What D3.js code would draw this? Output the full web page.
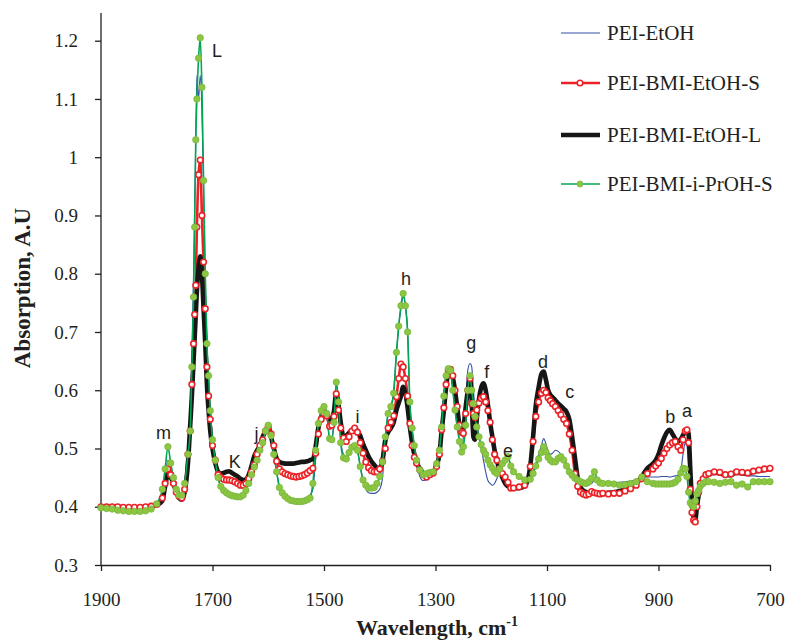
<!DOCTYPE html>
<html>
<head>
<meta charset="utf-8">
<script src="https://cdn.jsdelivr.net/npm/d3@7"></script>
<style>
	body { margin: 0; background: #fff; }
	svg text { fill: #231f20; }
	.serif { font-family: "Liberation Serif", "Times New Roman", serif; }
	.peak { font-family: "Liberation Sans", Arial, sans-serif; font-size: 18px; }
</style>
</head>
<body>
<div id="chart"></div>
<script>
// Wavenumbers (cm-1) shared by the four spectra
const wavenumbers = [
	1900, 1890, 1880, 1870, 1860, 1850, 1840, 1830, 1820, 1810, 1800, 1790, 1785, 1780, 1775, 1770, 1765, 1760, 1755, 1750,
	1744, 1740, 1737, 1734, 1732, 1730, 1728, 1725, 1722, 1719, 1716, 1713, 1710, 1707, 1704, 1700, 1695,
	1690, 1685, 1680, 1675, 1670, 1665, 1660, 1655, 1650, 1645, 1640, 1635, 1630, 1625, 1620, 1615, 1610, 1605, 1600, 1595, 1590, 1585, 1580, 1575, 1570, 1565, 1560, 1555, 1550, 1545, 1540, 1535, 1530, 1525,
	1520, 1515, 1510, 1505, 1500, 1495, 1490, 1486, 1482, 1478, 1474, 1470, 1465, 1460, 1455, 1450, 1445, 1440, 1435, 1430, 1425, 1420, 1415, 1410, 1405, 1400, 1395, 1390,
	1385, 1380, 1375, 1370, 1366, 1362, 1358, 1354, 1350, 1346, 1342, 1338, 1334, 1328, 1322, 1316, 1310, 1304, 1298, 1293, 1289, 1285, 1281, 1277, 1273, 1269, 1265, 1261, 1257, 1253, 1250, 1246, 1242, 1238, 1235, 1232, 1229, 1226, 1222, 1218, 1214, 1210, 1206, 1202, 1198, 1194, 1190, 1185, 1180, 1175, 1170,
	1165, 1160, 1150, 1140, 1130, 1125, 1120, 1115, 1110, 1106, 1102, 1098, 1094, 1090, 1085, 1080, 1075, 1070, 1065, 1060, 1055, 1050, 1045, 1040, 1035, 1030, 1025, 1020, 1015, 1010, 1005,
	1000, 990, 980, 970, 960, 950, 940, 930, 920, 910, 905, 900, 895, 890, 885, 880, 875, 870, 865, 860, 856, 852, 849, 846, 843, 840, 837, 834, 831, 828, 825, 820, 815, 810, 800, 790, 780, 770, 760, 750, 740, 730, 720, 710, 700
];

const peiEtOH = [
	.40, .40, .40, .399, .398, .398, .397, .397, .398, .399, .402, .42, .45, .48, .47, .45, .43, .42, .42, .43,
	.49, .54, .66, .80, .92, 1.03, 1.14, 1.10, 1.14, 1.08, .94, .79, .68, .62, .56, .515, .48,
	.45, .433, .425, .42, .418, .416, .415, .415, .416, .42, .428, .44, .455, .47, .482, .497, .51, .527, .535, .52, .49, .46, .435, .427, .42, .416, .413, .411, .41, .41, .41, .411, .413, .42,
	.43, .48, .535, .56, .568, .556, .52, .52, .55, .61, .58, .515, .49, .485, .493, .50, .503, .495, .47, .445, .43, .424, .423, .423, .425, .43, .45, .52,
	.56, .57, .60, .665, .71, .74, .76, .745, .70, .58, .53, .50, .475, .452, .445, .447, .45, .455, .47, .50, .535, .585, .625, .637, .634, .60, .566, .537, .515, .50, .52, .58, .635, .646, .64, .60, .57, .545, .52, .50, .48, .46, .445, .44, .437, .44, .448, .46, .462, .45, .44,
	.437, .435, .437, .442, .45, .46, .475, .49, .505, .517, .508, .495, .49, .492, .497, .495, .49, .483, .475, .465, .455, .447, .443, .44, .437, .436, .437, .44, .445, .442, .44,
	.44, .44, .441, .442, .443, .444, .446, .45, .451, .451, .451, .451, .452, .452, .452, .451, .452, .453, .454, .462, .49, .51, .505, .47, .42, .39, .38, .385, .405, .422, .432, .445, .45, .452, .455, .455, .455, .455, .455, .454, .453, .453, .452, .452, .452
];

const peiBmiEtOHS = [
	.40, .40, .40, .40, .399, .399, .399, .399, .40, .401, .404, .415, .44, .465, .455, .44, .425, .418, .415, .43,
	.49, .53, .61, .68, .73, .78, .88, .97, .995, .90, .82, .74, .64, .59, .55, .505, .48,
	.455, .45, .447, .446, .446, .445, .443, .44, .437, .437, .44, .448, .46, .472, .49, .505, .515, .53, .537, .525, .505, .478, .465, .46, .457, .455, .453, .452, .451, .452, .453, .455, .458, .462,
	.466, .492, .525, .55, .56, .556, .538, .54, .555, .594, .566, .535, .518, .512, .52, .53, .535, .528, .51, .492, .477, .467, .462, .46, .46, .465, .478, .50,
	.535, .545, .556, .589, .62, .645, .64, .62, .59, .543, .505, .485, .475, .463, .455, .451, .455, .458, .469, .49, .532, .57, .61, .634, .636, .625, .60, .572, .54, .528, .526, .56, .60, .62, .577, .56, .553, .566, .578, .586, .589, .58, .565, .545, .515, .49, .48, .465, .457, .451, .442,
	.432, .432, .434, .437, .469, .512, .555, .58, .595, .60, .596, .587, .582, .577, .572, .565, .558, .55, .543, .525, .497, .457, .435, .425, .422, .42, .422, .426, .424, .423, .422,
	.423, .422, .423, .423, .427, .431, .437, .448, .457, .465, .47, .475, .483, .492, .50, .506, .51, .512, .503, .497, .515, .53, .532, .51, .43, .39, .377, .374, .40, .425, .44, .448, .455, .457, .46, .459, .455, .456, .46, .459, .458, .461, .463, .465, .466
];

const peiBmiEtOHL = [
	.40, .40, .40, .40, .399, .399, .398, .399, .40, .401, .403, .41, .435, .455, .45, .44, .425, .415, .412, .425,
	.475, .54, .59, .65, .69, .73, .77, .81, .83, .80, .74, .68, .61, .565, .53, .50, .475,
	.46, .457, .458, .46, .461, .458, .455, .452, .448, .446, .447, .455, .47, .487, .497, .505, .52, .53, .537, .52, .50, .483, .477, .475, .474, .474, .474, .474, .475, .476, .477, .477, .478, .48,
	.482, .503, .537, .555, .563, .56, .55, .55, .565, .595, .575, .545, .52, .522, .527, .53, .535, .53, .522, .508, .497, .486, .478, .472, .467, .466, .48, .515,
	.528, .535, .545, .566, .578, .59, .606, .595, .57, .537, .51, .49, .477, .465, .457, .453, .455, .458, .47, .49, .53, .565, .605, .63, .635, .622, .60, .57, .54, .53, .535, .57, .60, .62, .58, .52, .515, .55, .585, .605, .612, .60, .575, .545, .52, .497, .48, .463, .45, .44, .435,
	.434, .432, .432, .435, .47, .52, .575, .605, .628, .632, .618, .60, .592, .588, .583, .577, .573, .568, .563, .55, .52, .485, .45, .434, .428, .425, .422, .425, .425, .424, .423,
	.423, .424, .425, .427, .43, .433, .44, .452, .466, .474, .48, .49, .505, .518, .528, .532, .525, .517, .512, .516, .523, .53, .532, .525, .465, .41, .382, .378, .40, .42, .436, .447, .452, .456, .46, .457, .455, .454, .46, .458, .457, .46, .462, .463, .465
];

const peiBmiPrOHS = [
	.398, .397, .396, .394, .393, .392, .392, .392, .393, .396, .405, .43, .465, .503, .475, .45, .43, .42, .42, .44,
	.49, .53, .64, .76, .88, 1.03, 1.10, 1.17, 1.205, 1.12, .96, .80, .68, .625, .565, .515, .48,
	.45, .435, .428, .424, .421, .419, .418, .417, .417, .42, .428, .44, .455, .468, .48, .497, .51, .53, .54, .522, .49, .46, .433, .424, .418, .414, .411, .41, .409, .409, .409, .41, .412, .415,
	.44, .497, .543, .565, .572, .56, .517, .515, .545, .614, .58, .51, .484, .482, .493, .502, .505, .497, .469, .446, .437, .432, .432, .433, .44, .452, .477, .52,
	.56, .572, .595, .665, .71, .745, .766, .745, .70, .58, .535, .505, .48, .463, .455, .457, .459, .46, .474, .497, .537, .59, .625, .637, .634, .60, .566, .537, .512, .494, .503, .54, .60, .625, .60, .577, .555, .537, .52, .507, .497, .49, .48, .472, .466, .46, .457, .465, .474, .48, .486,
	.47, .46, .452, .446, .447, .457, .47, .482, .493, .503, .494, .485, .48, .477, .477, .483, .486, .48, .47, .46, .454, .449, .446, .443, .441, .44, .443, .449, .46, .446, .441,
	.44, .44, .439, .437, .438, .44, .443, .451, .443, .44, .439, .439, .439, .439, .439, .439, .44, .442, .447, .458, .466, .465, .452, .425, .407, .402, .40, .41, .422, .428, .435, .44, .443, .443, .442, .44, .442, .443, .437, .439, .434, .443, .443, .443, .443
];

const seriesNames = ["PEI-EtOH", "PEI-BMI-EtOH-S", "PEI-BMI-EtOH-L", "PEI-BMI-i-PrOH-S"];
const xTicks = [1900, 1700, 1500, 1300, 1100, 900, 700];
const yTicks = [0.3, 0.4, 0.5, 0.6, 0.7, 0.8, 0.9, 1.0, 1.1, 1.2];

// peak letters and the (wavenumber, absorbance) they sit at
const peakLetters = ["L", "m", "K", "j", "i", "h", "g", "f", "e", "d", "c", "b", "a"];
const peakAnchors = [[1692, 1.172], [1788, 0.516], [1660, 0.466], [1621, 0.514], [1440, 0.544],
	[1353, 0.780], [1236, 0.670], [1208, 0.621], [1170, 0.485], [1107, 0.638], [1059, 0.586],
	[879, 0.544], [849, 0.554]];

class SpectrumChart {
	svg;
	scaleX; scaleY;
	colors = ["#3452a6", "#ec2227", "#161616", "#00a651"];
	widths = [1.1, 2.6, 4.6, 1.6];

	constructor(container, width, height) {
		this.svg = d3.select(container).append("svg")
			.attr("width", width).attr("height", height);

		this.scaleX = d3.scaleLinear([1900, 700], [101, 770]);
		this.scaleY = d3.scaleLinear([0.3, 1.2], [565, 40.7]);
	}

	#drawAxes() {
		let axisX = d3.axisBottom(this.scaleX).tickValues(xTicks)
			.tickSize(6).tickSizeOuter(0).tickPadding(22)
			.tickFormat(d3.format("d"));
		let axisY = d3.axisLeft(this.scaleY).tickValues(yTicks)
			.tickSize(6).tickSizeOuter(0).tickPadding(17)
			.tickFormat((d) => String(+d.toFixed(1)));

		let gx = this.svg.append("g").attr("transform", "translate(0,565)").call(axisX);
		let gy = this.svg.append("g").attr("transform", "translate(101,0)").call(axisY);
		gy.select(".domain").remove();
		gy.append("line").attr("y1", 13).attr("y2", 565).attr("stroke", "#231f20").attr("stroke-width", 1.3);

		for (let g of [gx, gy]) {
			g.attr("font-family", null);
			g.selectAll(".domain, .tick line").attr("stroke", "#231f20").attr("stroke-width", 1.3);
			g.selectAll(".tick text").attr("class", "serif").attr("font-size", 19).attr("fill", "#231f20");
		}

		// axis titles
		let tx = this.svg.append("text").attr("class", "serif")
			.attr("x", 437).attr("y", 635).attr("text-anchor", "middle")
			.attr("font-size", 22).attr("font-weight", "bold");
		tx.append("tspan").text("Wavelength, cm");
		tx.append("tspan").attr("dy", -9).attr("font-size", 14).text("-1");

		this.svg.append("text").attr("class", "serif")
			.attr("transform", "translate(30,288) rotate(-90)")
			.attr("text-anchor", "middle").attr("font-size", 23).attr("font-weight", "bold")
			.text("Absorption, A.U");
	}

	#drawSpectra() {
		let line = d3.line()
			.x((d) => this.scaleX(d[0]))
			.y((d) => this.scaleY(d[1]))
			.curve(d3.curveMonotoneX);

		let series = [peiEtOH, peiBmiEtOHS, peiBmiEtOHL, peiBmiPrOHS]
			.map((vals) => wavenumbers.map((w, i) => [w, vals[i]]).filter((d) => d[1] != null));

		series.forEach((pts, i) => {
			this.svg.append("path").datum(pts)
				.attr("fill", "none").attr("stroke", this.colors[i])
				.attr("stroke-width", this.widths[i]).attr("stroke-linejoin", "round")
				.attr("d", line);
		});

		// markers on the S series
		this.svg.append("g").selectAll("circle").data(series[1]).join("circle")
			.attr("cx", (d) => this.scaleX(d[0])).attr("cy", (d) => this.scaleY(d[1]))
			.attr("r", 2.8).attr("fill", "#fff").attr("stroke", "#ec2227").attr("stroke-width", 1.6);
		this.svg.append("g").selectAll("circle").data(series[3]).join("circle")
			.attr("cx", (d) => this.scaleX(d[0])).attr("cy", (d) => this.scaleY(d[1]))
			.attr("r", 3.2).attr("fill", "#8dc63f").attr("stroke", "#79b843").attr("stroke-width", 0.8);
	}

	#drawLabels() {
		this.svg.append("g").selectAll("text").data(peakLetters).join("text")
			.attr("class", "peak")
			.attr("text-anchor", "middle")
			.attr("x", (d, i) => this.scaleX(peakAnchors[i][0]))
			.attr("y", (d, i) => this.scaleY(peakAnchors[i][1]))
			.text((d) => d);
	}

	#drawLegend() {
		let rows = [33, 83, 135, 184];
		let lg = this.svg.append("g");

		seriesNames.forEach((name, i) => {
			lg.append("line").attr("x1", 561).attr("x2", 600).attr("y1", rows[i]).attr("y2", rows[i])
				.attr("stroke", this.colors[i]).attr("stroke-width", this.widths[i]);
			lg.append("text").attr("class", "serif").attr("x", 607).attr("y", rows[i])
				.attr("dy", "0.35em").attr("font-size", 21).text(name);
		});
		lg.append("circle").attr("cx", 580).attr("cy", rows[1]).attr("r", 2.8)
			.attr("fill", "#fff").attr("stroke", "#ec2227").attr("stroke-width", 1.6);
		lg.append("circle").attr("cx", 580).attr("cy", rows[3]).attr("r", 3)
			.attr("fill", "#8dc63f").attr("stroke", "#79b843").attr("stroke-width", 0.8);
	}

	render() {
		this.#drawAxes();
		this.#drawSpectra();
		this.#drawLabels();
		this.#drawLegend();
		return this;
	}
}

new SpectrumChart("#chart", 790, 641).render();
</script>
</body>
</html>
